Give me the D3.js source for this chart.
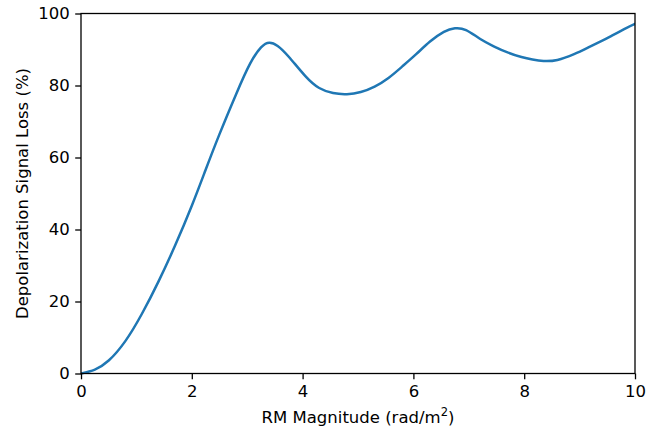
<!DOCTYPE html>
<html>
<head>
<meta charset="utf-8">
<script src="https://cdn.jsdelivr.net/npm/d3@7"></script>
<style>
  html, body { margin: 0; padding: 0; background: #fff; }
  text { font-family: "DejaVu Sans", sans-serif; }
</style>
</head>
<body>
<svg id="chart" width="662" height="429"></svg>
<script>
const rmMagnitude = [0, 0.25, 0.5, 0.8, 1.1, 1.4, 1.7, 2.0, 2.25, 2.5, 2.8, 3.05, 3.25, 3.4, 3.55, 3.75, 4.05, 4.3, 4.55, 4.8, 5.05, 5.3, 5.55, 5.8, 6.05, 6.3, 6.55, 6.75, 6.95, 7.2, 7.45, 7.7, 7.95, 8.15, 8.35, 8.6, 8.9, 9.15, 9.4, 9.6, 9.85, 10];
const signalLoss = [0, 1.1, 3.6, 9.0, 16.6, 25.6, 35.6, 46.6, 56.6, 66.5, 77.6, 86.0, 90.6, 91.9, 91.0, 88.0, 82.6, 79.3, 77.9, 77.6, 78.2, 79.7, 82.1, 85.3, 88.7, 92.2, 94.9, 95.9, 95.4, 93.0, 90.9, 89.2, 87.9, 87.2, 86.8, 87.1, 88.7, 90.5, 92.4, 94.0, 96.0, 97.1];
const xTicks = [0, 2, 4, 6, 8, 10];
const yTicks = [0, 20, 40, 60, 80, 100];
const xLabel = "RM Magnitude (rad/m";
const yLabel = "Depolarization Signal Loss (%)";

const svg = d3.select("#chart");
const mLeft = 81, mRight = 635, mTop = 13.5, mBottom = 373.5;
const fs = 16.5;

const x = d3.scaleLinear().domain([0, 10]).range([mLeft, mRight]);
const y = d3.scaleLinear().domain([0, 100]).range([mBottom, mTop]);

const points = rmMagnitude.map((v, i) => [v, signalLoss[i]]);

svg.append("defs").append("clipPath").attr("id", "clip")
  .append("rect").attr("x", mLeft).attr("y", mTop - 2).attr("width", mRight - mLeft).attr("height", mBottom - mTop + 4);

svg.append("path")
  .datum(points)
  .attr("clip-path", "url(#clip)")
  .attr("fill", "none")
  .attr("stroke", "#1f77b4")
  .attr("stroke-width", 2.5)
  .attr("stroke-linejoin", "round")
  .attr("stroke-linecap", "square")
  .attr("d", d3.line().x(d => x(d[0])).y(d => y(d[1])).curve(d3.curveNatural));

const xAxis = svg.append("g").attr("transform", `translate(0,${mBottom})`)
  .call(d3.axisBottom(x).tickValues(xTicks).tickFormat(d3.format("d")).tickSizeInner(5.8).tickSizeOuter(0).tickPadding(5.5));
const yAxis = svg.append("g").attr("transform", `translate(${mLeft},0)`)
  .call(d3.axisLeft(y).tickValues(yTicks).tickFormat(d3.format("d")).tickSizeInner(5.8).tickSizeOuter(0).tickPadding(5.5));

[xAxis, yAxis].forEach(g => {
  g.select(".domain").remove();
  g.selectAll(".tick line").attr("stroke", "#000").attr("stroke-width", 1.3);
  g.selectAll(".tick text").attr("fill", "#000").style("font-size", fs + "px").style("font-family", "DejaVu Sans");
});

svg.append("rect")
  .attr("x", mLeft).attr("y", mTop).attr("width", mRight - mLeft).attr("height", mBottom - mTop)
  .attr("fill", "none").attr("stroke", "#000").attr("stroke-width", 1.3);

const xl = svg.append("text")
  .attr("x", (mLeft + mRight) / 2).attr("y", 423)
  .attr("text-anchor", "middle")
  .style("font-size", fs + "px").attr("fill", "#000");
xl.append("tspan").text(xLabel);
xl.append("tspan").attr("dy", -7).style("font-size", (fs * 0.7) + "px").text("2");
xl.append("tspan").attr("dy", 7).text(")");

svg.append("text")
  .attr("transform", `translate(28,${(mTop + mBottom) / 2}) rotate(-90)`)
  .attr("text-anchor", "middle")
  .style("font-size", fs + "px").attr("fill", "#000")
  .text(yLabel);
</script>
</body>
</html>
